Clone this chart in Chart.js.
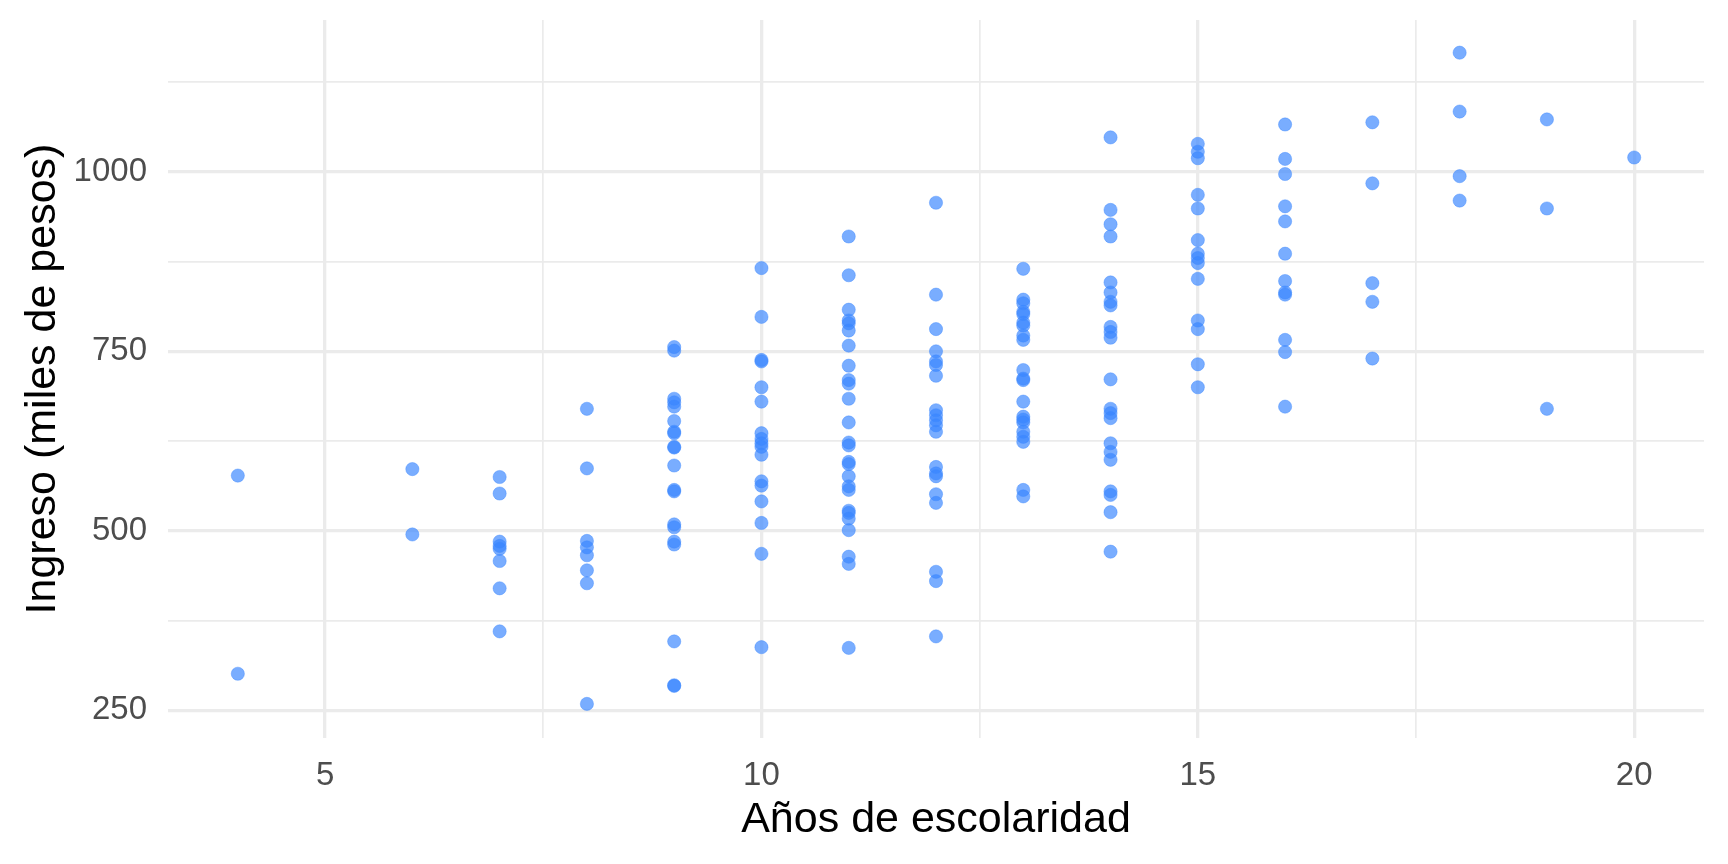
<!DOCTYPE html>
<html lang="es">
<head>
  <meta charset="UTF-8">
  <title>Ingreso vs escolaridad</title>
  <script src="https://cdn.jsdelivr.net/npm/chart.js"></script>
  <style>
    body {
      margin: 0;
      background-color: #ffffff;
    }
    canvas {
      display: block;
    }
  </style>
</head>
<body>
  <canvas id="scatterChart" width="1728" height="864"></canvas>

  <script>
    // años de escolaridad y el ingreso (miles de pesos) de cada persona en ese grupo
    const escolaridad = [4, 6, 7, 8, 9, 10, 11, 12, 13, 14, 15, 16, 17, 18, 19, 20];
    const ingresos = [
      [577, 301],
      [586, 495],
      [575, 552, 485, 479, 475, 458, 420, 360],
      [670, 587, 486, 477, 466, 445, 427, 259],
      [756, 751, 684, 679, 673, 653, 638, 636, 617, 616, 591, 557, 555, 509, 505, 485, 481, 346, 285, 284],
      [866, 798, 738, 736, 700, 680, 636, 628, 622, 617, 606, 569, 563, 541, 511, 468, 338],
      [910, 856, 808, 793, 789, 779, 758, 730, 710, 705, 684, 651, 623, 619, 596, 593, 576, 562, 557, 528, 525, 517, 501, 464, 454, 337],
      [957, 829, 781, 750, 736, 731, 716, 668, 661, 654, 647, 638, 589, 580, 576, 551, 539, 443, 430, 353],
      [865, 822, 817, 805, 802, 790, 786, 772, 766, 724, 712, 710, 680, 659, 655, 651, 638, 631, 624, 557, 548],
      [1048, 947, 927, 910, 846, 832, 819, 814, 784, 777, 769, 711, 670, 664, 657, 622, 610, 599, 555, 550, 526, 471],
      [1039, 1028, 1019, 968, 949, 905, 886, 880, 873, 851, 793, 781, 732, 700],
      [1066, 1018, 997, 952, 931, 886, 848, 832, 829, 766, 749, 673],
      [1069, 984, 845, 819, 740],
      [1166, 1084, 994, 960],
      [1073, 949, 670],
      [1020]
    ];

    const xTicks = [5, 7.5, 10, 12.5, 15, 17.5, 20];
    const xLabels = [5, 10, 15, 20];
    const yTicks = [250, 375, 500, 625, 750, 875, 1000, 1125];
    const yLabels = [250, 500, 750, 1000];

    const puntos = [];
    escolaridad.forEach((anio, i) => {
      ingresos[i].forEach(v => puntos.push({ x: anio, y: v }));
    });

    const gridColor = '#ebebeb';
    const tickFont = { family: "'Liberation Sans', Arial, sans-serif", size: 33 };
    const titleFont = { family: "'Liberation Sans', Arial, sans-serif", size: 43, lineHeight: 1 };

    const ctx = document.getElementById('scatterChart').getContext('2d');
    new Chart(ctx, {
      type: 'scatter',
      data: {
        datasets: [{
          data: puntos,
          backgroundColor: 'rgba(58, 134, 255, 0.68)',
          borderColor: 'rgba(58, 134, 255, 0.68)',
          borderWidth: 0.6,
          pointRadius: 6.6,
          pointHoverRadius: 6.6
        }]
      },
      options: {
        responsive: false,
        devicePixelRatio: 1,
        animation: false,
        layout: {
          padding: { top: 20, right: 24, left: 0, bottom: 0 }
        },
        plugins: {
          legend: { display: false },
          tooltip: { enabled: false }
        },
        scales: {
          x: {
            type: 'linear',
            min: 3.2,
            max: 20.8,
            afterBuildTicks: scale => {
              scale.ticks = xTicks.map(v => ({ value: v }));
            },
            afterFit: scale => {
              scale.height = 126;
              scale.paddingLeft = 0;
              scale.paddingRight = 0;
            },
            border: { display: false },
            grid: {
              color: gridColor,
              drawTicks: false,
              lineWidth: c => (xLabels.includes(c.tick.value) ? 3.3 : 1.7)
            },
            ticks: {
              autoSkip: false,
              maxRotation: 0,
              padding: 18,
              color: '#4d4d4d',
              font: tickFont,
              callback: v => (xLabels.includes(v) ? v : '')
            },
            title: {
              display: true,
              text: 'Años de escolaridad',
              color: '#000000',
              font: titleFont,
              padding: 22
            }
          },
          y: {
            type: 'linear',
            min: 211.5,
            max: 1211.5,
            afterBuildTicks: scale => {
              scale.ticks = yTicks.map(v => ({ value: v }));
            },
            afterFit: scale => {
              scale.width = 168;
              scale.paddingTop = 0;
              scale.paddingBottom = 0;
            },
            border: { display: false },
            grid: {
              color: gridColor,
              drawTicks: false,
              lineWidth: c => (yLabels.includes(c.tick.value) ? 3.3 : 1.7)
            },
            ticks: {
              autoSkip: false,
              padding: 21,
              color: '#4d4d4d',
              font: tickFont,
              callback: v => (yLabels.includes(v) ? v : '')
            },
            title: {
              display: true,
              text: 'Ingreso (miles de pesos)',
              color: '#000000',
              font: titleFont,
              padding: 22
            }
          }
        }
      }
    });
  </script>
</body>
</html>
